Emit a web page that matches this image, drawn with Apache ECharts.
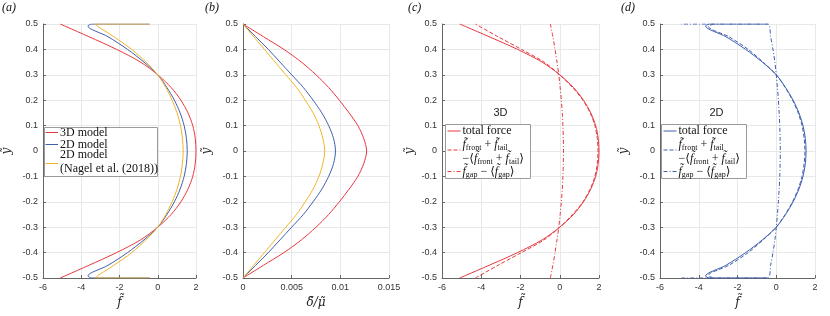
<!DOCTYPE html>
<html><head><meta charset="utf-8">
<script src="https://cdn.jsdelivr.net/npm/echarts@6/dist/echarts.min.js"></script>
<style>html,body{margin:0;padding:0;background:#fff}#c{width:830px;height:316px}</style>
</head><body><div id="c"></div>
<script>
// ---------- data: [f, y] pairs ----------
// panel (a) / (c) total force, 3D model
const force3D = [[-5.10,-0.5],[-4.80,-0.49],[-3.60,-0.45],[-2.15,-0.4],[-0.90,-0.35],[0.00,-0.3],[0.70,-0.25],[1.21,-0.2],[1.58,-0.15],[1.83,-0.1],[1.96,-0.05],[2.00,0],
  [1.96,0.05],[1.83,0.1],[1.58,0.15],[1.21,0.2],[0.70,0.25],[0.00,0.3],[-0.90,0.35],[-2.15,0.4],[-3.60,0.45],[-4.80,0.49],[-5.10,0.5]];
// panel (a) / (d) total force, 2D model
const force2D = [[-0.42,-0.5],[-3.45,-0.5],[-3.65,-0.492],[-2.60,-0.45],[-1.58,-0.4],[-0.72,-0.35],[0.00,-0.3],[0.48,-0.25],[0.87,-0.2],[1.17,-0.15],[1.38,-0.1],[1.50,-0.05],[1.54,0],
  [1.50,0.05],[1.38,0.1],[1.17,0.15],[0.87,0.2],[0.48,0.25],[0.00,0.3],[-0.72,0.35],[-1.58,0.4],[-2.60,0.45],[-3.65,0.492],[-3.45,0.5],[-0.42,0.5]];
// panel (a) 2D model (Nagel et al. (2018))
const forceNagel = [[-0.42,-0.5],[-3.27,-0.5],[-3.12,-0.49],[-2.30,-0.45],[-1.36,-0.4],[-0.62,-0.35],[0.00,-0.3],[0.42,-0.25],[0.75,-0.2],[1.01,-0.15],[1.19,-0.1],[1.29,-0.05],[1.33,0],
  [1.29,0.05],[1.19,0.1],[1.01,0.15],[0.75,0.2],[0.42,0.25],[0.00,0.3],[-0.62,0.35],[-1.36,0.4],[-2.30,0.45],[-3.12,0.49],[-3.27,0.5],[-0.42,0.5]];
// panel (b) delta/mu
const delta3D = [[0,-0.5],[0.0021,-0.45],[0.0042,-0.4],[0.0060,-0.35],[0.0075,-0.3],[0.0088,-0.25],[0.0099,-0.2],[0.0109,-0.15],[0.0118,-0.1],[0.0124,-0.05],[0.0127,0],
  [0.0124,0.05],[0.0118,0.1],[0.0109,0.15],[0.0099,0.2],[0.0088,0.25],[0.0075,0.3],[0.0060,0.35],[0.0042,0.4],[0.0021,0.45],[0,0.5]];
const delta2D = [[0,-0.5],[0.0013,-0.45],[0.0026,-0.4],[0.0038,-0.35],[0.0050,-0.3],[0.0062,-0.25],[0.0072,-0.2],[0.0081,-0.15],[0.0088,-0.1],[0.0093,-0.05],[0.0095,0],
  [0.0093,0.05],[0.0088,0.1],[0.0081,0.15],[0.0072,0.2],[0.0062,0.25],[0.0050,0.3],[0.0038,0.35],[0.0026,0.4],[0.0013,0.45],[0,0.5]];
const deltaNagel = [[0,-0.5],[0.0011,-0.45],[0.0022,-0.4],[0.0033,-0.35],[0.0044,-0.3],[0.0055,-0.25],[0.0064,-0.2],[0.0072,-0.15],[0.0078,-0.1],[0.0082,-0.05],[0.0084,0],
  [0.0082,0.05],[0.0078,0.1],[0.0072,0.15],[0.0064,0.2],[0.0055,0.25],[0.0044,0.3],[0.0033,0.35],[0.0022,0.4],[0.0011,0.45],[0,0.5]];
// panel (c) 3D components
const frontTail3D = [[-4.30,-0.5],[-3.15,-0.45],[-1.95,-0.4],[-0.80,-0.35],[0.00,-0.3],[0.65,-0.25],[1.18,-0.2],[1.55,-0.15],[1.79,-0.1],[1.91,-0.05],[1.95,0],
  [1.91,0.05],[1.79,0.1],[1.55,0.15],[1.18,0.2],[0.65,0.25],[0.00,0.3],[-0.80,0.35],[-1.95,0.4],[-3.15,0.45],[-4.30,0.5]];
const gap3D = [[-0.48,-0.5],[-0.35,-0.45],[-0.24,-0.4],[-0.14,-0.35],[-0.05,-0.3],[0.02,-0.25],[0.08,-0.2],[0.13,-0.15],[0.16,-0.1],[0.18,-0.05],[0.19,0],
  [0.18,0.05],[0.16,0.1],[0.13,0.15],[0.08,0.2],[0.02,0.25],[-0.05,0.3],[-0.14,0.35],[-0.24,0.4],[-0.35,0.45],[-0.48,0.5]];
// panel (d) 2D components
const frontTail2D = [[-3.25,-0.5],[-3.50,-0.49],[-2.45,-0.45],[-1.45,-0.4],[-0.68,-0.35],[0.00,-0.3],[0.46,-0.25],[0.84,-0.2],[1.13,-0.15],[1.33,-0.1],[1.44,-0.05],[1.48,0],
  [1.44,0.05],[1.33,0.1],[1.13,0.15],[0.84,0.2],[0.46,0.25],[0.00,0.3],[-0.68,0.35],[-1.45,0.4],[-2.45,0.45],[-3.50,0.49],[-3.25,0.5]];
const gap2D = [[-4.90,-0.5],[-0.43,-0.5],[-0.29,-0.45],[-0.17,-0.4],[-0.07,-0.35],[0.00,-0.3],[0.06,-0.25],[0.11,-0.2],[0.15,-0.15],[0.18,-0.1],[0.20,-0.05],[0.21,0],
  [0.20,0.05],[0.18,0.1],[0.15,0.15],[0.11,0.2],[0.06,0.25],[0.00,0.3],[-0.07,0.35],[-0.17,0.4],[-0.29,0.45],[-0.43,0.5],[-4.90,0.5]];

const legendA = ['3D model', '2D model', '2D model', '(Nagel et al. (2018))'];
const panelLabels = ['(a)', '(b)', '(c)', '(d)'];

// ---------- styling ----------
const RED = '#e6393f', BLUE = '#3f5fae', YEL = '#f0b429';
const SANS = 'Liberation Sans, Arial, sans-serif';
const SERIF = 'Liberation Serif, DejaVu Serif, serif';
const MATH = 'DejaVu Serif, serif';
const DASH = [4, 2], DASHDOT = [4, 2, 1, 2];

const grids = [
  {left: 40, top: 24, width: 156, height: 254},
  {left: 243, top: 24, width: 146, height: 254},
  {left: 442, top: 24, width: 157, height: 254},
  {left: 660, top: 24, width: 155, height: 254}
];
const axisCommon = {
  type: 'value',
  axisLine: {onZero: false, lineStyle: {color: '#666', width: 1}},
  axisTick: {inside: true, length: 3, lineStyle: {color: '#666'}},
  axisLabel: {fontFamily: SANS, fontSize: 9, color: '#333'},
  splitLine: {show: true, lineStyle: {color: '#e8e8e8', width: 1}},
  nameTextStyle: {fontFamily: MATH, fontStyle: 'italic', fontSize: 12, color: '#222'}
};
function xAx(i, min, max, interval, name) {
  return Object.assign({}, axisCommon, {gridIndex: i, min, max, interval, name, nameLocation: 'middle', nameGap: 13,
    axisLabel: Object.assign({}, axisCommon.axisLabel, {margin: 5})});
}
function yAx(i, gap) {
  return Object.assign({}, axisCommon, {gridIndex: i, min: -0.5, max: 0.5, interval: 0.1, name: 'ỹ', nameLocation: 'middle', nameGap: gap, nameRotate: 90,
    axisLabel: Object.assign({}, axisCommon.axisLabel, {margin: 5})});
}
function ln(i, data, color, type) {
  return {type: 'line', xAxisIndex: i, yAxisIndex: i, data, symbol: 'none', smooth: 0.3,
    lineStyle: {color, width: 1, type: type || 'solid'}, animation: false, silent: true};
}

const rich = {
  n: {fontFamily: SERIF, fontSize: 12, lineHeight: 14, fill: '#111'},
  i: {fontFamily: SERIF, fontStyle: 'italic', fontSize: 12, lineHeight: 14, fill: '#111'},
  s: {fontFamily: SERIF, fontSize: 8, lineHeight: 14, padding: [6, 0, 0, 0], fill: '#111'}
};
function txt(x, y, text, extra) {
  return {type: 'text', x, y, z: 101, style: Object.assign({text, fontFamily: SERIF, fontSize: 12, fill: '#111', verticalAlign: 'middle'}, extra || {})};
}
function seg(x1, y, x2, color, dash) {
  return {type: 'line', z: 101, shape: {x1, y1: y, x2, y2: y}, style: {stroke: color, lineWidth: 1, lineDash: dash || null}};
}
function box(x, y, w, h) {
  return {type: 'rect', z: 100, shape: {x, y, width: w, height: h}, style: {fill: '#fff', stroke: '#9a9a9a', lineWidth: 1}};
}
function compLegend(ox, color, label) {
  return [
    box(ox, 124.5, 85, 54),
    seg(ox + 2, 131, ox + 15, color),
    txt(ox + 17, 131, 'total force'),
    seg(ox + 2, 150, ox + 15, color, DASH),
    txt(ox + 17, 145, '{i|f̃}{s|front}{n| + }{i|f̃}{s|tail}', {rich}),
    txt(ox + 17, 158.5, '{n|−⟨}{i|f̃}{s|front}{n| + }{i|f̃}{s|tail}{n|⟩}', {rich}),
    seg(ox + 2, 171.5, ox + 15, color, DASHDOT),
    txt(ox + 17, 171.5, '{i|f̃}{s|gap}{n| − ⟨}{i|f̃}{s|gap}{n|⟩}', {rich}),
    {type: 'text', x: ox + 55, y: 113, z: 101, style: {text: label, fontFamily: SANS, fontSize: 11, fill: '#222', align: 'center', verticalAlign: 'middle'}}
  ];
}

const graphic = [].concat(
  [box(44.5, 127.5, 113, 49),
   seg(45.5, 132.5, 58, RED), txt(60, 132.5, legendA[0]),
   seg(45.5, 144.5, 58, BLUE), txt(60, 144.5, legendA[1]),
   txt(60, 155, legendA[2]),
   seg(45.5, 163.5, 58, YEL), txt(60, 169, legendA[3])],
  compLegend(445.5, RED, '3D'),
  compLegend(661.5, BLUE, '2D'),
  [[2, 8], [205, 8], [408, 8], [621, 8]].map((p, k) => txt(p[0], p[1], panelLabels[k], {fontStyle: 'italic', fontSize: 12}))
);

const option = {
  animation: false,
  backgroundColor: '#fff',
  grid: grids,
  xAxis: [xAx(0, -6, 2, 2, 'f̃'), xAx(1, 0, 0.015, 0.005, 'δ̃/μ̃'), xAx(2, -6, 2, 2, 'f̃'), xAx(3, -6, 2, 2, 'f̃')],
  yAxis: [yAx(0, 30), yAx(1, 30), yAx(2, 26), yAx(3, 30)],
  series: [
    ln(0, force3D, RED), ln(0, force2D, BLUE), ln(0, forceNagel, YEL),
    ln(1, delta3D, RED), ln(1, delta2D, BLUE), ln(1, deltaNagel, YEL),
    ln(2, force3D, RED), ln(2, frontTail3D, RED, DASH), ln(2, gap3D, RED, DASHDOT),
    ln(3, force2D, BLUE), ln(3, frontTail2D, BLUE, DASH), ln(3, gap2D, BLUE, DASHDOT)
  ],
  graphic
};
const chart = echarts.init(document.getElementById('c'), null, {renderer: 'canvas'});
chart.setOption(option);
</script></body></html>
